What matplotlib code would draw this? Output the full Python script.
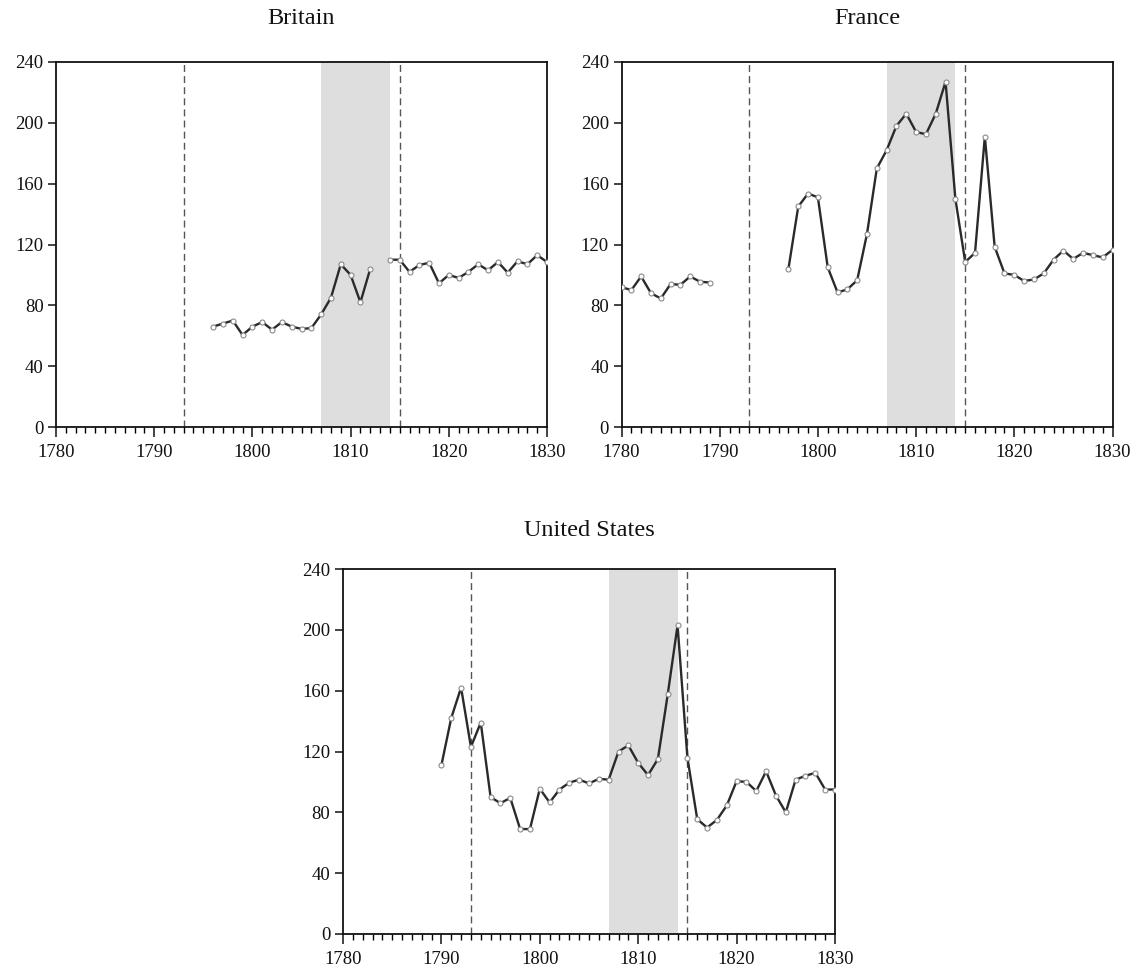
import numpy as np
import matplotlib
matplotlib.use("Agg")
import matplotlib.pyplot as plt
from matplotlib.ticker import MultipleLocator

plt.rcParams['font.family'] = ['Liberation Serif', 'DejaVu Serif']

# years shown on every panel
years = np.arange(1780, 1831)
nan = np.nan

# Britain: no data before 1796, gap in 1813
britain = [nan] * 16 + \
    [66, 68, 70, 60.5, 66, 69, 64, 69, 66, 64.5, 65, 74, 85, 107, 100, 82, 104] + \
    [nan] + \
    [110, 110, 102, 106.5, 108, 94.5, 100, 98, 102, 107, 103, 108.5, 101.5, 109, 107, 113, 108.5]

# France: gap 1790-1796
france = [92, 90, 99, 88, 84.5, 94, 93.5, 99, 95.5, 95] + \
    [nan] * 7 + \
    [104, 145, 153.5, 151, 105, 88.5, 90.5, 96.5, 127, 170, 182, 198, 206, 194, 192.5,
     206, 227, 150, 108.5, 114.5, 191, 118.5, 101, 100, 96, 97, 101, 110, 116, 110.5,
     114.5, 113, 111.5, 116.5]

# United States: starts 1790
usa = [nan] * 10 + \
    [111, 142, 162, 123, 139, 90, 86, 89.5, 69, 69, 95.5, 86.5, 95, 99.5, 101.5, 99,
     102, 101.5, 120, 124, 112.5, 104.5, 115, 157.5, 203, 116, 75.5, 70, 75, 84.5,
     100.5, 100, 94, 107, 91, 80, 101.5, 104, 106, 95, 95]

titles = ['Britain', 'France', 'United States']
shade_years = (1807, 1814)
war_lines = [1793, 1815]

W, H = 1140, 974
fig = plt.figure(figsize=(W / 100, H / 100), dpi=100)

# axes boxes in pixels: left, top, width, height
boxes = [(56, 62, 491, 365), (621.5, 62, 491, 365), (343, 569, 492, 365)]
title_y = [19, 19, 530]
series = [britain, france, usa]

for (l, t, w, h), name, ty, vals in zip(boxes, titles, title_y, series):
    ax = fig.add_axes([l / W, 1 - (t + h) / H, w / W, h / H])
    ax.axvspan(shade_years[0], shade_years[1], color='#dedede', lw=0, zorder=0)
    for x in war_lines:
        ax.axvline(x, color='#555555', lw=1.0, ls=(0, (5, 3)), zorder=1)
    ax.plot(years, vals, color='#2a2a2a', lw=1.7, marker='o', ms=3.6,
            mfc='white', mec='#8a8a8a', mew=0.8, zorder=3)
    ax.set_xlim(1780, 1830)
    ax.set_ylim(0, 240)
    ax.set_yticks(np.arange(0, 241, 40))
    ax.xaxis.set_major_locator(MultipleLocator(10))
    ax.xaxis.set_minor_locator(MultipleLocator(1))
    ax.tick_params(axis='both', which='major', direction='out', width=1.1,
                   labelsize=13.5, colors='#111111')
    ax.tick_params(axis='x', which='major', length=7, pad=5)
    ax.tick_params(axis='x', which='minor', length=4.3, width=1.0)
    ax.tick_params(axis='y', which='major', length=6, pad=3)
    for s in ax.spines.values():
        s.set_linewidth(1.3)
        s.set_color('#111111')
    fig.text((l + w / 2) / W, 1 - ty / H, name, ha='center', va='center',
             fontsize=17.5, color='#111111')

fig.savefig('out.png', dpi=100)
